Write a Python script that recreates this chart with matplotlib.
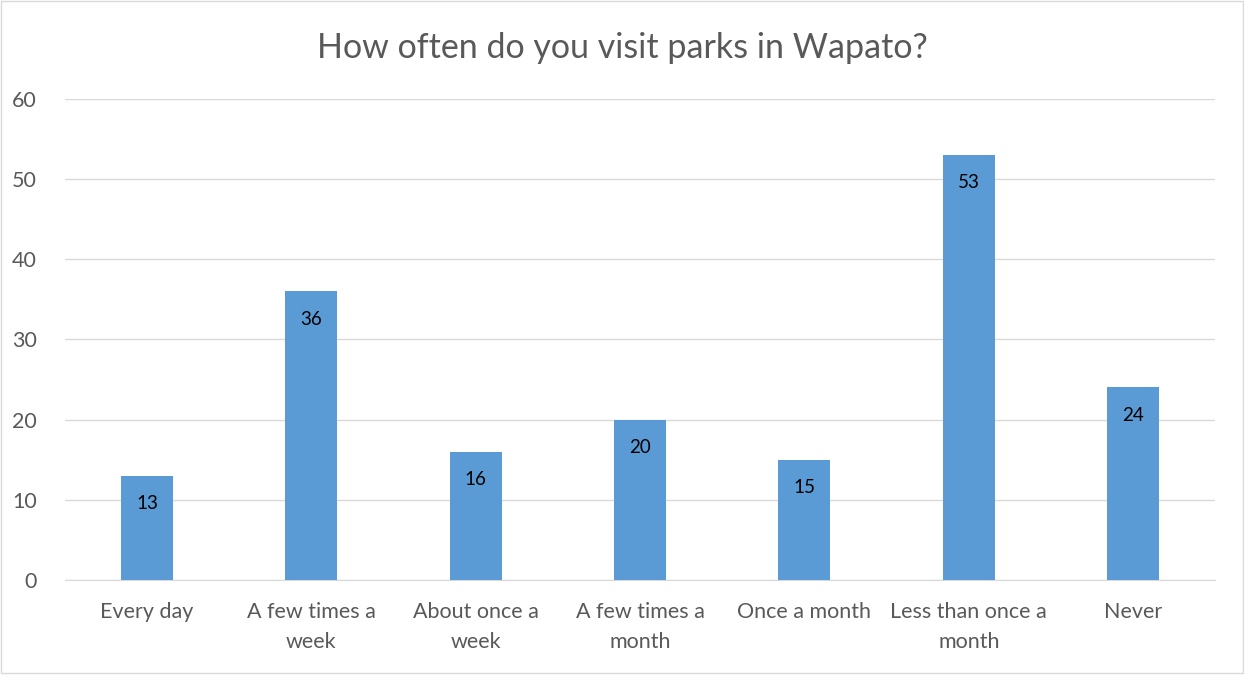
import matplotlib
matplotlib.use("Agg")
import matplotlib.pyplot as plt
from matplotlib.patches import Rectangle

categories = ["Every day", "A few times a\nweek", "About once a\nweek", "A few times a\nmonth",
              "Once a month", "Less than once a\nmonth", "Never"]
counts = [13, 36, 16, 20, 15, 53, 24]
yticks = [0, 10, 20, 30, 40, 50, 60]

plt.rcParams['font.family'] = ['Lato', 'DejaVu Sans']

fig = plt.figure(figsize=(12.44, 6.76), dpi=100)
ax = fig.add_axes([0.052, 0.142, 0.925, 0.712])

x = range(len(categories))
bars = ax.bar(x, counts, width=0.316, color='#5B9BD5', zorder=3)

# value labels just inside the top of each bar
for b, v in zip(bars, counts):
    ax.annotate(str(v), (b.get_x() + b.get_width() / 2, v), xytext=(0, -28),
                textcoords='offset pixels', ha='center', va='center',
                fontsize=13.5, color='black', zorder=4)

ax.set_xlim(-0.5, len(categories) - 0.5)
ax.set_ylim(0, 60)
ax.set_yticks(yticks)
ax.set_xticks(list(x))
ax.set_xticklabels(categories, fontsize=15.5, color='#595959', linespacing=1.6)
ax.tick_params(axis='y', labelsize=15.5, labelcolor='#595959', length=0, pad=20)
ax.tick_params(axis='x', length=0, pad=16)
ax.grid(axis='y', color='#D9D9D9', lw=1, zorder=0)
for s in ['top', 'right', 'left']:
    ax.spines[s].set_visible(False)
ax.spines['bottom'].set_color('#D9D9D9')

fig.suptitle("How often do you visit parks in Wapato?", y=0.953, fontsize=24.5, color='#595959')

fig.patches.append(Rectangle((0.001, 0.004), 0.998, 0.995, transform=fig.transFigure,
                             fill=False, edgecolor='#D9D9D9', lw=1))

plt.savefig("out.png", dpi=100)
plt.close()
